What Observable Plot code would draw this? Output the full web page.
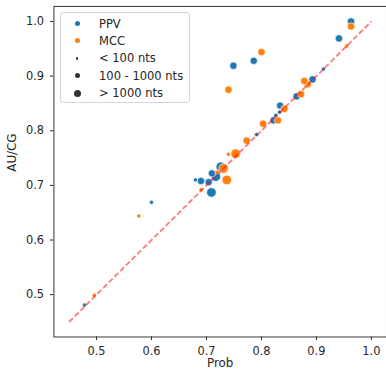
<!DOCTYPE html>
<html>
<head>
<meta charset="utf-8">
<script src="https://cdn.jsdelivr.net/npm/d3@7"></script>
<script src="https://cdn.jsdelivr.net/npm/@observablehq/plot@0.6"></script>
<style>
  html, body { margin: 0; padding: 0; background: #fff; overflow: hidden; }
  #wrap { position: relative; width: 386px; height: 377px; overflow: hidden; font-family: "DejaVu Sans", sans-serif; }
  #wrap svg { position: absolute; left: 0; top: 0; }
  .legend { position: absolute; left: 60px; top: 12px; width: 130px; height: 91px; border: 1px solid #d6d6d6; border-radius: 3px; background: rgba(255,255,255,0.8); box-sizing: border-box; }
  .row { position: absolute; left: 0; height: 14px; line-height: 14px; font-size: 11.5px; color: #262626; white-space: nowrap; }
  .row .mk { position: absolute; border-radius: 50%; }
  .row .lb { position: absolute; left: 38px; top: 0; }
</style>
</head>
<body>
<div id="wrap"></div>
<script>
// ---- data ----
const ppvX = [0.963, 0.941, 0.913, 0.893, 0.864, 0.834, 0.833, 0.826, 0.822, 0.791, 0.786, 0.749, 0.726, 0.710, 0.717, 0.704, 0.690, 0.680, 0.709, 0.600, 0.478];
const ppvY = [1.000, 0.969, 0.913, 0.894, 0.863, 0.846, 0.834, 0.828, 0.819, 0.793, 0.928, 0.919, 0.734, 0.722, 0.716, 0.706, 0.708, 0.710, 0.687, 0.669, 0.481];
const ppvSize = ["m", "m", "s", "m", "m", "m", "s", "s", "m", "s", "m", "m", "l", "m", "l", "m", "m", "s", "l", "s", "s"];

const mccX = [0.963, 0.955, 0.884, 0.878, 0.872, 0.842, 0.830, 0.803, 0.800, 0.773, 0.753, 0.740, 0.740, 0.731, 0.719, 0.737, 0.690, 0.577, 0.496];
const mccY = [0.991, 0.955, 0.885, 0.891, 0.867, 0.840, 0.819, 0.813, 0.944, 0.782, 0.758, 0.757, 0.875, 0.731, 0.724, 0.710, 0.692, 0.644, 0.499];
const mccSize = ["m", "s", "m", "m", "m", "m", "m", "m", "m", "m", "l", "s", "m", "l", "s", "l", "s", "s", "s"];

const metrics = ["PPV", "MCC"];
const sizeLabels = ["< 100 nts", "100 - 1000 nts", "> 1000 nts"];
const xTicks = [0.5, 0.6, 0.7, 0.8, 0.9, 1.0];
const yTicks = [0.5, 0.6, 0.7, 0.8, 0.9, 1.0];
const diagX = [0.45, 1.0];
const xLabel = "Prob";
const yLabel = "AU/CG";

// ---- styles ----
const COLORS = {PPV: "#1f77b4", MCC: "#ff7f0e"};
const RADIUS = {s: 2.1, m: 3.7, l: 4.8};
const LEGEND_R = {s: 1.4, m: 2.5, l: 3.5};

const rows = [];
ppvX.forEach((x, i) => rows.push({metric: "PPV", x, y: ppvY[i], size: ppvSize[i]}));
mccX.forEach((x, i) => rows.push({metric: "MCC", x, y: mccY[i], size: mccSize[i]}));
const diag = diagX.map(v => ({x: v, y: v}));

const chart = Plot.plot({
  width: 390,
  height: 377,
  marginLeft: 54,
  marginRight: 0,
  marginTop: 6,
  marginBottom: 37,
  style: {fontFamily: "DejaVu Sans, sans-serif", fontSize: "11.5px", color: "#262626", background: "transparent", overflow: "visible"},
  x: {domain: [0.4225, 1.0275], ticks: xTicks, tickFormat: d3.format(".1f"), tickSize: 3.5, tickPadding: 6.5, label: null},
  y: {domain: [0.4225, 1.0275], ticks: yTicks, tickFormat: d3.format(".1f"), tickSize: 3.5, tickPadding: 6.5, label: null},
  r: {type: "identity"},
  marks: [
    Plot.dot(rows, {x: "x", y: "y", r: d => RADIUS[d.size], fill: d => COLORS[d.metric], stroke: "white", strokeWidth: 0.6}),
    Plot.line(diag, {x: "x", y: "y", stroke: "red", strokeOpacity: 0.5, strokeWidth: 1.9, strokeLinecap: "butt", strokeDasharray: "5.5,2.6"}),
    Plot.frame({stroke: "#333", strokeWidth: 1}),
    Plot.text([xLabel], {text: d => d, frameAnchor: "bottom", dy: 30, fontSize: 12, fill: "#262626"}),
    Plot.text([yLabel], {text: d => d, frameAnchor: "left", dx: -42, rotate: -90, fontSize: 12, fill: "#262626"})
  ]
});

const wrap = document.getElementById("wrap");
wrap.appendChild(chart);

// legend
const legend = document.createElement("div");
legend.className = "legend";
const entries = [
  {label: metrics[0], color: COLORS.PPV, r: LEGEND_R.m},
  {label: metrics[1], color: COLORS.MCC, r: LEGEND_R.m},
  {label: sizeLabels[0], color: "#333", r: LEGEND_R.s},
  {label: sizeLabels[1], color: "#333", r: LEGEND_R.m},
  {label: sizeLabels[2], color: "#333", r: LEGEND_R.l}
];
entries.forEach((e, i) => {
  const row = document.createElement("div");
  row.className = "row";
  row.style.top = (3.5 + i * 17.4) + "px";
  const mk = document.createElement("span");
  mk.className = "mk";
  mk.style.width = (2 * e.r) + "px";
  mk.style.height = (2 * e.r) + "px";
  mk.style.left = (16 - e.r) + "px";
  mk.style.top = (7 - e.r) + "px";
  mk.style.background = e.color;
  const lb = document.createElement("span");
  lb.className = "lb";
  lb.textContent = e.label;
  row.appendChild(mk);
  row.appendChild(lb);
  legend.appendChild(row);
});
wrap.appendChild(legend);
</script>
</body>
</html>
